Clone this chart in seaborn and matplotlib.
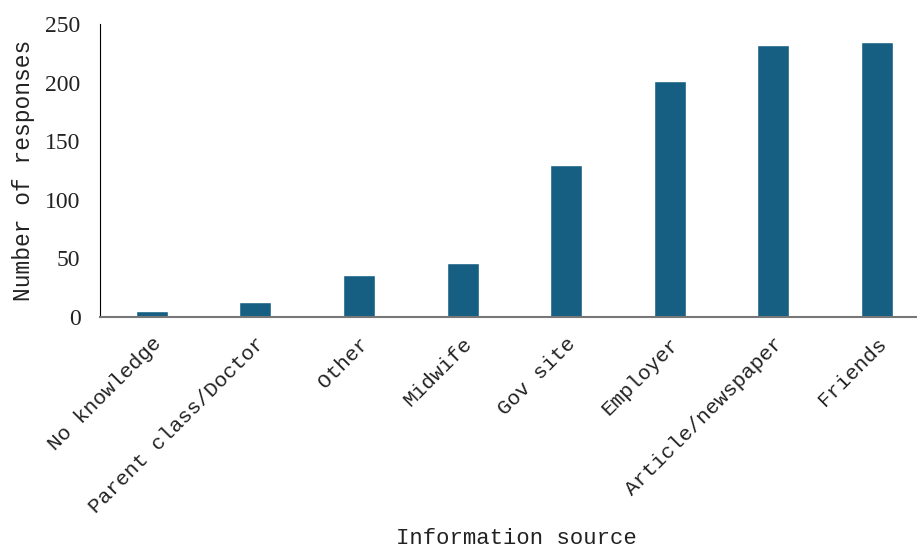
import pandas as pd
import seaborn as sns
import matplotlib.pyplot as plt

sources = ["No knowledge", "Parent class/Doctor", "Other", "Midwife",
           "Gov site", "Employer", "Article/newspaper", "Friends"]
responses = [5, 13, 36, 46, 130, 201, 232, 235]

df = pd.DataFrame({"source": sources, "responses": responses})

sns.set_style("white")

W, H = 917, 549
fig = plt.figure(figsize=(W / 100, H / 100), dpi=100)
ax = fig.add_axes([100 / W, (H - 317) / H, (W - 100) / W, (317 - 24) / H])

sns.barplot(data=df, x="source", y="responses", color="#165f82",
            saturation=1, width=0.31, ax=ax)

ax.set_ylim(0, 250)
ax.set_xlim(-0.5, 7 + 40 / 103.6)
ax.set_yticks([0, 50, 100, 150, 200, 250])
ax.tick_params(axis="y", labelsize=17, length=0, pad=14)
ax.tick_params(axis="x", labelsize=15.2, length=0, pad=12)
for t in ax.get_yticklabels():
    t.set_fontfamily("Liberation Serif")
    t.set_color("#222222")
for t in ax.get_xticklabels():
    t.set_fontfamily("Liberation Mono")
    t.set_color("#222222")
    t.set_rotation(45)
    t.set_ha("right")
    t.set_rotation_mode("anchor")

sns.despine(ax=ax, top=True, right=True)
ax.spines["left"].set_color("black")
ax.spines["left"].set_linewidth(0.8)
ax.spines["bottom"].set_color("#777777")
ax.spines["bottom"].set_linewidth(1.5)

ax.set_ylabel("Number of responses", fontsize=16.5, fontfamily="Liberation Mono",
              color="#222222")
ax.yaxis.set_label_coords(-65 / (W - 100), 0.5)
ax.set_xlabel("")
fig.text(516 / W, 1 - 538 / H, "Information source", fontsize=16,
         fontfamily="Liberation Mono", ha="center", va="center", color="#222222")

plt.savefig("out.png", dpi=100)
